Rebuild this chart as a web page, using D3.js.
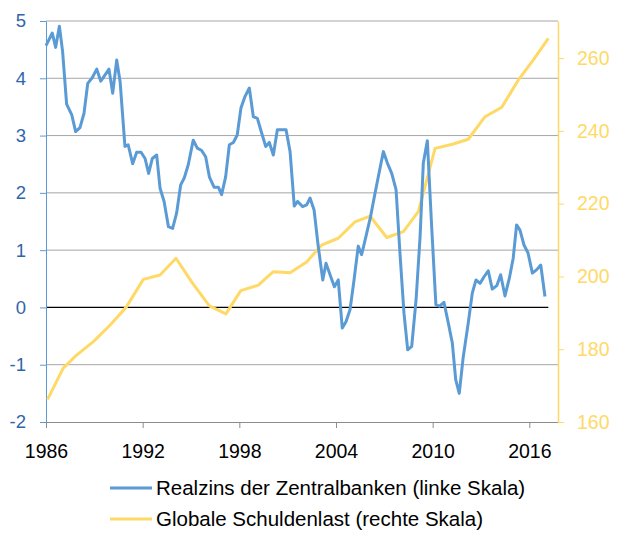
<!DOCTYPE html>
<html>
<head>
<meta charset="utf-8">
<script src="https://cdn.jsdelivr.net/npm/d3@7"></script>
<style>
  body { margin: 0; background: #fff; }
  svg { display: block; font-family: "Liberation Sans", Arial, sans-serif; }
</style>
</head>
<body>
<svg id="chart" width="623" height="540"></svg>
<script>
// Realzins der Zentralbanken (linke Skala), Stuetzpunkte: Jahr / Wert
var realYears = [1986.0, 1986.39, 1986.6, 1986.83, 1987.03, 1987.28, 1987.6, 1987.84, 1988.11, 1988.36,
    1988.59, 1988.87, 1989.15, 1989.4, 1989.91, 1990.14, 1990.39, 1990.6, 1990.9, 1991.1,
    1991.38, 1991.63, 1991.9, 1992.15, 1992.37, 1992.6, 1992.87, 1993.08, 1993.33, 1993.6,
    1993.86, 1994.11, 1994.36, 1994.58, 1994.83, 1995.14, 1995.39, 1995.66, 1995.91, 1996.14,
    1996.43, 1996.7, 1996.9, 1997.15, 1997.38, 1997.63, 1997.87, 1998.1, 1998.35, 1998.62,
    1998.87, 1999.12, 1999.39, 1999.64, 1999.86, 2000.11, 2000.36, 2000.9, 2001.15, 2001.41,
    2001.62, 2001.93, 2002.18, 2002.39, 2002.64, 2002.9, 2003.18, 2003.38, 2003.67, 2003.9,
    2004.14, 2004.39, 2004.62, 2004.87, 2005.12, 2005.38, 2005.59, 2005.86, 2006.15, 2006.42,
    2006.69, 2006.94, 2007.19, 2007.46, 2007.73, 2007.97, 2008.22, 2008.45, 2008.7, 2008.97,
    2009.22, 2009.42, 2009.67, 2009.94, 2010.2, 2010.41, 2010.7, 2010.97, 2011.22, 2011.43,
    2011.65, 2011.9, 2012.21, 2012.46, 2012.69, 2012.94, 2013.2, 2013.45, 2013.7, 2013.98,
    2014.22, 2014.49, 2014.76, 2015.0, 2015.21, 2015.42, 2015.67, 2015.92, 2016.19, 2016.46,
    2016.71, 2016.97];
var realValues = [4.57, 4.79, 4.54, 4.91, 4.47, 3.55, 3.36, 3.07, 3.14, 3.39,
    3.91, 4.01, 4.16, 3.95, 4.16, 3.74, 4.32, 3.94, 2.81, 2.84,
    2.51, 2.71, 2.71, 2.6, 2.34, 2.6, 2.66, 2.08, 1.85, 1.41,
    1.38, 1.65, 2.14, 2.26, 2.49, 2.92, 2.78, 2.74, 2.63, 2.28,
    2.1, 2.1, 1.97, 2.28, 2.84, 2.88, 3.01, 3.48, 3.68, 3.83,
    3.33, 3.3, 3.04, 2.81, 2.88, 2.66, 3.1, 3.1, 2.72, 1.77,
    1.85, 1.76, 1.79, 1.91, 1.7, 1.06, 0.48, 0.77, 0.54, 0.36,
    0.48, -0.36, -0.25, -0.04, 0.48, 1.07, 0.92, 1.24, 1.59, 1.99,
    2.37, 2.72, 2.52, 2.34, 2.05, 0.95, -0.1, -0.74, -0.68, 0.13,
    1.24, 2.52, 2.91, 1.4, 0.05, 0.02, 0.09, -0.27, -0.62, -1.26,
    -1.5, -0.86, -0.27, 0.25, 0.48, 0.42, 0.54, 0.64, 0.32, 0.38,
    0.57, 0.2, 0.51, 0.86, 1.44, 1.35, 1.09, 0.95, 0.6, 0.66,
    0.74, 0.19];

// Globale Schuldenlast (rechte Skala)
var debtYears = [1986.1, 1987.07, 1987.9, 1988.94, 1989.97, 1990.97, 1992.04, 1993.08, 1994.07, 1995.04,
    1996.14, 1997.17, 1998.09, 1999.18, 2000.11, 2001.15, 2002.18, 2003.1, 2004.14, 2005.18,
    2006.11, 2007.15, 2008.18, 2009.11, 2009.63, 2010.15, 2011.28, 2012.21, 2013.25, 2014.29,
    2015.32, 2016.25, 2017.18];
var debtValues = [166.2, 174.8, 178.4, 182.1, 186.6, 191.5, 199.2, 200.4, 205.0, 198.5,
    191.9, 189.7, 196.1, 197.6, 201.3, 201.0, 204.0, 208.6, 210.5, 215.0,
    216.6, 210.7, 212.3, 217.8, 226.5, 235.2, 236.4, 237.7, 243.9, 246.5,
    254.0, 259.5, 265.4];

var xTicks = [1986, 1992, 1998, 2004, 2010, 2016];
var leftTicks = [-2, -1, 0, 1, 2, 3, 4, 5];
var rightTicks = [160, 180, 200, 220, 240, 260];
var seriesNames = ["Realzins der Zentralbanken (linke Skala)", "Globale Schuldenlast (rechte Skala)"];

var blue = "#5b9bd5", yellow = "#ffd966";

var svg = d3.select("#chart"),
    margin = {top: 21, right: 65, bottom: 118, left: 46},
    width = 623 - margin.left - margin.right,
    height = 540 - margin.top - margin.bottom;

var x = d3.scaleLinear().domain([1986, 2017.78]).range([0, width]),
    yL = d3.scaleLinear().domain([-2, 5]).range([height, 0]),
    yR = d3.scaleLinear().domain([160, 270.2]).range([height, 0]);

var g = svg.append("g")
    .attr("transform", "translate(" + margin.left + "," + margin.top + ")");

// Gitterlinien
g.selectAll(".grid")
    .data(leftTicks.filter(function (d) { return d !== 0 && d !== -2; }))
    .enter()
    .append("line")
    .attr("class", "grid")
    .attr("x1", 0)
    .attr("x2", width)
    .attr("y1", function (d) { return yL(d); })
    .attr("y2", function (d) { return yL(d); })
    .attr("stroke", "#a6a6a6")
    .attr("stroke-width", 1);

// Nulllinie
g.append("line")
    .attr("x1", 0)
    .attr("x2", x(d3.max(debtYears)))
    .attr("y1", yL(0))
    .attr("y2", yL(0))
    .attr("stroke", "#000")
    .attr("stroke-width", 1.2);

// x-Achse
var xAxis = g.append("g")
    .attr("class", "axis axis--x")
    .attr("transform", "translate(0," + height + ")")
    .call(d3.axisBottom(x).tickValues(xTicks).tickFormat(d3.format("d")).tickSize(6).tickSizeOuter(0));
xAxis.select(".domain").attr("stroke", "#8c8c8c");
xAxis.selectAll(".tick line").attr("stroke", "#8c8c8c");
xAxis.selectAll("text")
    .attr("fill", "#000")
    .attr("font-size", "19.5px")
    .attr("y", 22)
    .attr("dy", "0.71em");

// linke Achse
var leftAxis = g.append("g")
    .attr("class", "axis axis--left")
    .call(d3.axisLeft(yL).tickValues(leftTicks).tickSize(6).tickSizeOuter(0));
leftAxis.select(".domain").attr("stroke", blue);
leftAxis.selectAll(".tick line").attr("stroke", blue);
leftAxis.selectAll("text")
    .attr("fill", "#2f65ad")
    .attr("font-size", "18.5px")
    .attr("x", -20)
    .text(function (d) { return d; });

// rechte Achse
var rightAxis = g.append("g")
    .attr("class", "axis axis--right")
    .attr("transform", "translate(" + width + ",0)")
    .call(d3.axisRight(yR).tickValues(rightTicks).tickSize(6).tickSizeOuter(0));
rightAxis.select(".domain").attr("stroke", yellow).attr("stroke-width", 1.5);
rightAxis.selectAll(".tick line").attr("stroke", yellow);
rightAxis.selectAll("text")
    .attr("fill", yellow)
    .attr("font-size", "19.5px")
    .attr("x", 19);

svg.selectAll(".axis").attr("font-family", null);

// Linien
var realLine = d3.line()
    .x(function (d, i) { return x(realYears[i]); })
    .y(function (d) { return yL(d); });
var debtLine = d3.line()
    .x(function (d, i) { return x(debtYears[i]); })
    .y(function (d) { return yR(d); });

g.append("path")
    .datum(debtValues)
    .attr("fill", "none")
    .attr("stroke", yellow)
    .attr("stroke-width", 3)
    .attr("stroke-linejoin", "round")
    .attr("d", debtLine);

g.append("path")
    .datum(realValues)
    .attr("fill", "none")
    .attr("stroke", blue)
    .attr("stroke-width", 3)
    .attr("stroke-linejoin", "round")
    .attr("d", realLine);

// Legende
var legend = svg.append("g")
    .attr("transform", "translate(110,488)");
var items = legend.selectAll(".legend-item")
    .data(seriesNames)
    .enter()
    .append("g")
    .attr("class", "legend-item")
    .attr("transform", function (d, i) { return "translate(0," + (i * 31) + ")"; });
items.append("line")
    .attr("x1", 0)
    .attr("x2", 42)
    .attr("stroke", function (d, i) { return i === 0 ? blue : yellow; })
    .attr("stroke-width", 3);
items.append("text")
    .attr("x", 46)
    .attr("dy", "0.35em")
    .attr("font-size", "20.5px")
    .attr("fill", "#000")
    .text(function (d) { return d; });
</script>
</body>
</html>
